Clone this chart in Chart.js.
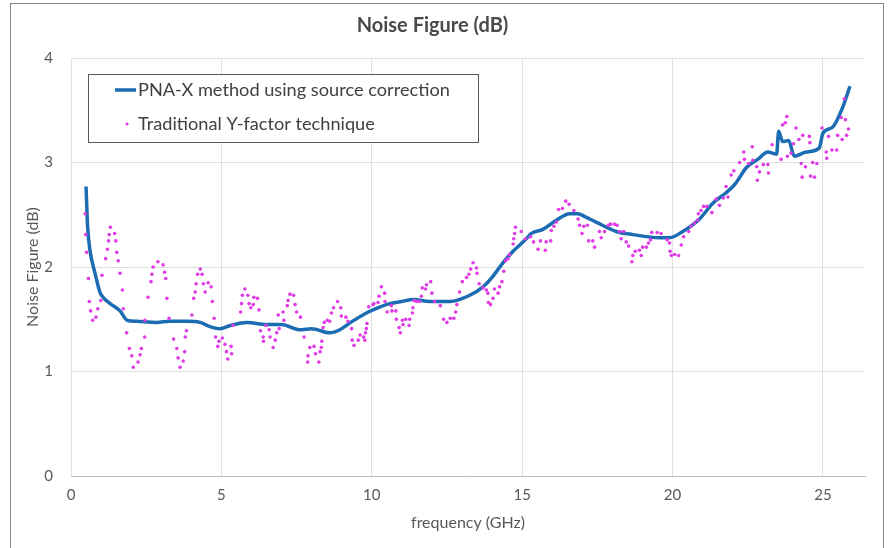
<!DOCTYPE html>
<html>
<head>
<meta charset="utf-8">
<title>Noise Figure (dB)</title>
<script src="https://cdn.jsdelivr.net/npm/chart.js@4/dist/chart.umd.min.js"></script>
<style>
  html, body { margin: 0; padding: 0; background: #fff; }
  #wrap { position: relative; width: 889px; height: 548px; }
  #frame {
    position: absolute; left: 10px; top: 3px; width: 874px; height: 560px;
    border: 1px solid #868686; box-sizing: border-box; pointer-events: none;
  }
</style>
</head>
<body>
<div id="wrap">
  <canvas id="nfChart" width="889" height="548"></canvas>
  <div id="frame"></div>
</div>
<script>
// PNA-X method using source correction: frequency (GHz) and noise figure (dB)
const pnaFreq = [0.5, 0.55, 0.63, 0.8, 0.96, 1.1, 1.3, 1.63, 1.87, 2.18, 2.85, 3.29, 3.84, 4.29, 4.62, 4.95,
  5.3, 5.84, 6.5, 7.0, 7.6, 8.0, 8.6, 8.94, 9.3, 9.82, 10.2, 10.6, 11.0, 11.37, 11.93, 12.6, 13.26, 13.7,
  14.0, 14.36, 14.7, 15.14, 15.3, 15.69, 16.1, 16.58, 16.85, 17.1, 17.46, 18.13, 18.68, 19.57, 19.9, 20.34,
  20.9, 21.34, 21.78, 22.1, 22.45, 22.83, 23.17, 23.46, 23.53, 23.66, 23.86, 24.05, 24.44, 24.88, 25.0,
  25.33, 25.66, 25.9];
const pnaNF = [2.77, 2.40, 2.16, 1.94, 1.76, 1.70, 1.65, 1.58, 1.49, 1.48, 1.47, 1.48, 1.48, 1.47, 1.43, 1.41,
  1.44, 1.47, 1.45, 1.45, 1.40, 1.41, 1.37, 1.40, 1.47, 1.56, 1.61, 1.65, 1.67, 1.69, 1.67, 1.67, 1.73, 1.81,
  1.90, 2.04, 2.15, 2.27, 2.32, 2.36, 2.44, 2.51, 2.51, 2.48, 2.43, 2.34, 2.31, 2.28, 2.28, 2.34,
  2.46, 2.61, 2.71, 2.80, 2.95, 3.03, 3.10, 3.08, 3.30, 3.20, 3.21, 3.06, 3.10, 3.14, 3.28,
  3.34, 3.53, 3.73];

// Traditional Y-factor technique: [frequency (GHz), noise figure (dB)]
const yFactorPoints = [
  [0.47, 2.51], [0.49, 2.31], [0.52, 2.14], [0.58, 1.89], [0.61, 1.67], [0.65, 1.58], [0.72, 1.49],
  [0.83, 1.52], [0.89, 1.60], [0.99, 1.68], [1.03, 1.92], [1.15, 2.08], [1.21, 2.17], [1.25, 2.25],
  [1.27, 2.31], [1.31, 2.38], [1.45, 2.32], [1.49, 2.25], [1.52, 2.14], [1.57, 2.06], [1.63, 1.94],
  [1.71, 1.78], [1.74, 1.60], [1.85, 1.37], [1.94, 1.22], [2.02, 1.15], [2.07, 1.04], [2.23, 1.09],
  [2.30, 1.16], [2.34, 1.22], [2.45, 1.33], [2.46, 1.49], [2.56, 1.71], [2.66, 1.86], [2.69, 1.93],
  [2.73, 2.00], [2.89, 2.05], [3.06, 2.02], [3.11, 1.95], [3.15, 1.89], [3.19, 1.70], [3.26, 1.51],
  [3.41, 1.31], [3.52, 1.22], [3.56, 1.13], [3.63, 1.04], [3.73, 1.10], [3.78, 1.19], [3.80, 1.33],
  [3.84, 1.39], [4.02, 1.54], [4.08, 1.70], [4.13, 1.76], [4.16, 1.84], [4.21, 1.93], [4.30, 1.98],
  [4.36, 1.93], [4.40, 1.84], [4.46, 1.76], [4.56, 1.85], [4.66, 1.81], [4.70, 1.67], [4.76, 1.51],
  [4.81, 1.33], [4.88, 1.24], [4.92, 1.29], [5.03, 1.32], [5.12, 1.26], [5.17, 1.19], [5.21, 1.12],
  [5.32, 1.24], [5.34, 1.17], [5.39, 1.44], [5.64, 1.57], [5.67, 1.65], [5.70, 1.73], [5.78, 1.79],
  [5.88, 1.73], [5.92, 1.65], [5.98, 1.61], [6.06, 1.64], [6.08, 1.71], [6.20, 1.70], [6.25, 1.59],
  [6.30, 1.39], [6.39, 1.33], [6.40, 1.29], [6.48, 1.44], [6.59, 1.40], [6.62, 1.33], [6.72, 1.23],
  [6.79, 1.30], [6.84, 1.37], [6.89, 1.54], [6.92, 1.41], [7.05, 1.57], [7.08, 1.49], [7.19, 1.63],
  [7.22, 1.68], [7.28, 1.74], [7.40, 1.73], [7.45, 1.64], [7.50, 1.57], [7.63, 1.52], [7.75, 1.33],
  [7.87, 1.09], [7.88, 1.15], [7.94, 1.23], [8.08, 1.24], [8.13, 1.17], [8.24, 1.09], [8.28, 1.19],
  [8.32, 1.23], [8.34, 1.29], [8.38, 1.42], [8.42, 1.47], [8.52, 1.49], [8.60, 1.48], [8.66, 1.56],
  [8.73, 1.61], [8.86, 1.67], [8.97, 1.61], [8.99, 1.53], [9.14, 1.52], [9.21, 1.48], [9.33, 1.41],
  [9.35, 1.30], [9.41, 1.25], [9.55, 1.30], [9.61, 1.35], [9.73, 1.33], [9.77, 1.30], [9.79, 1.37],
  [9.82, 1.41], [9.84, 1.46], [9.90, 1.62], [10.04, 1.64], [10.07, 1.65], [10.21, 1.66], [10.24, 1.72],
  [10.32, 1.81], [10.43, 1.75], [10.44, 1.67], [10.51, 1.57], [10.65, 1.63], [10.67, 1.58], [10.80, 1.58],
  [10.82, 1.50], [10.91, 1.42], [10.95, 1.37], [11.02, 1.49], [11.04, 1.45], [11.13, 1.50], [11.24, 1.44],
  [11.26, 1.50], [11.35, 1.56], [11.37, 1.61], [11.41, 1.68], [11.49, 1.67], [11.59, 1.67], [11.65, 1.72],
  [11.68, 1.80], [11.79, 1.79], [11.82, 1.83], [11.96, 1.86], [12.00, 1.75], [12.09, 1.67], [12.28, 1.63],
  [12.39, 1.50], [12.50, 1.47], [12.61, 1.51], [12.73, 1.51], [12.79, 1.57], [12.83, 1.64], [12.92, 1.76],
  [13.01, 1.86], [13.15, 1.90], [13.23, 1.93], [13.29, 1.98], [13.37, 2.04], [13.48, 1.99], [13.50, 1.94],
  [13.57, 1.84], [13.70, 1.80], [13.81, 1.78], [13.86, 1.75], [13.88, 1.66], [13.95, 1.64], [14.03, 1.70],
  [14.08, 1.79], [14.20, 1.75], [14.25, 1.81], [14.33, 1.86], [14.39, 1.96], [14.45, 2.06], [14.53, 2.08],
  [14.58, 2.12], [14.70, 2.22], [14.72, 2.27], [14.75, 2.32], [14.78, 2.38], [14.97, 2.34], [15.11, 2.27],
  [15.28, 2.29], [15.38, 2.24], [15.53, 2.17], [15.61, 2.25], [15.77, 2.16], [15.80, 2.24], [15.95, 2.25],
  [15.97, 2.35], [16.06, 2.39], [16.14, 2.43], [16.21, 2.55], [16.34, 2.56], [16.45, 2.63], [16.56, 2.60],
  [16.72, 2.54], [16.86, 2.46], [16.91, 2.40], [16.99, 2.32], [17.05, 2.39], [17.17, 2.40], [17.21, 2.25],
  [17.35, 2.25], [17.41, 2.19], [17.57, 2.34], [17.63, 2.28], [17.74, 2.34], [17.87, 2.40], [17.94, 2.41],
  [18.07, 2.41], [18.16, 2.40], [18.24, 2.34], [18.29, 2.27], [18.38, 2.34], [18.46, 2.24], [18.54, 2.20],
  [18.65, 2.05], [18.68, 2.11], [18.76, 2.15], [18.90, 2.16], [18.96, 2.11], [19.01, 2.19], [19.13, 2.19],
  [19.20, 2.23], [19.27, 2.26], [19.31, 2.33], [19.49, 2.33], [19.62, 2.32], [19.82, 2.26], [19.90, 2.23],
  [19.92, 2.15], [19.96, 2.11], [20.07, 2.12], [20.20, 2.11], [20.29, 2.21], [20.37, 2.29], [20.54, 2.34],
  [20.62, 2.39], [20.73, 2.42], [20.84, 2.45], [20.86, 2.51], [20.95, 2.54], [21.03, 2.58], [21.14, 2.58],
  [21.31, 2.52], [21.45, 2.65], [21.56, 2.59], [21.69, 2.66], [21.78, 2.77], [21.84, 2.67], [21.95, 2.88],
  [22.04, 2.92], [22.23, 3.00], [22.37, 3.10], [22.39, 3.03], [22.53, 2.99], [22.65, 3.15], [22.67, 3.02],
  [22.80, 2.96], [22.82, 2.83], [22.89, 2.91], [23.02, 2.98], [23.17, 2.98], [23.19, 2.90], [23.31, 3.17],
  [23.61, 3.03], [23.66, 3.36], [23.75, 3.38], [23.80, 3.44], [23.82, 3.06], [23.94, 3.09], [24.02, 3.18],
  [24.11, 3.33], [24.20, 3.22], [24.28, 2.99], [24.31, 2.86], [24.33, 3.26], [24.42, 2.96], [24.55, 3.25],
  [24.57, 3.19], [24.59, 2.87], [24.66, 3.00], [24.72, 2.86], [24.80, 2.99], [24.97, 3.33], [25.11, 3.10],
  [25.13, 3.04], [25.19, 3.25], [25.30, 3.12], [25.46, 3.12], [25.49, 3.26], [25.61, 3.43], [25.64, 3.22],
  [25.71, 3.61], [25.75, 3.41], [25.79, 3.26], [25.85, 3.32]
];

const xTicks = [0, 5, 10, 15, 20, 25];
const yTicks = [0, 1, 2, 3, 4];

const seriesNames = ['PNA-X method using source correction', 'Traditional Y-factor technique'];
const lineColor = '#1c6cb3';
const dotColor = '#e03ce6';
const fontFamily = 'Lato, "Open Sans", sans-serif';

// legend framed inside the plot, top-left
const boxedLegend = {
  id: 'boxedLegend',
  afterDatasetsDraw(chart) {
    const { ctx, chartArea } = chart;
    const x = chartArea.left + 17, y = chartArea.top + 16;
    const w = 390, h = 68;
    ctx.save();
    ctx.fillStyle = '#fff';
    ctx.fillRect(x, y, w, h);
    ctx.strokeStyle = '#595959';
    ctx.lineWidth = 1;
    ctx.strokeRect(x + 0.5, y + 0.5, w, h);
    ctx.font = '18.2px ' + fontFamily;
    ctx.fillStyle = '#404040';
    ctx.textBaseline = 'middle';
    // row 1: line sample
    ctx.strokeStyle = lineColor;
    ctx.lineWidth = 3.5;
    ctx.beginPath();
    ctx.moveTo(x + 27, y + 16);
    ctx.lineTo(x + 48, y + 16);
    ctx.stroke();
    ctx.fillText(seriesNames[0], x + 50, y + 16);
    // row 2: dot sample
    ctx.fillStyle = dotColor;
    ctx.beginPath();
    ctx.arc(x + 39, y + 50, 1.6, 0, Math.PI * 2);
    ctx.fill();
    ctx.fillStyle = '#404040';
    ctx.fillText(seriesNames[1], x + 50, y + 50);
    ctx.restore();
  }
};

const ctx = document.getElementById('nfChart').getContext('2d');
new Chart(ctx, {
  type: 'scatter',
  data: {
    datasets: [
      {
        label: seriesNames[1],
        data: yFactorPoints.map(p => ({ x: p[0], y: p[1] })),
        backgroundColor: dotColor,
        borderColor: dotColor,
        pointRadius: 1.8,
        pointBorderWidth: 0,
        order: 0
      },
      {
        label: seriesNames[0],
        data: pnaFreq.map((f, i) => ({ x: f, y: pnaNF[i] })),
        showLine: true,
        borderColor: lineColor,
        borderWidth: 3.5,
        pointRadius: 0,
        cubicInterpolationMode: 'monotone',
        order: 1
      }
    ]
  },
  options: {
    responsive: false,
    animation: false,
    layout: { padding: { left: 0, right: 24, top: 0, bottom: 0 } },
    plugins: {
      legend: { display: false },
      tooltip: { enabled: false },
      title: {
        display: true,
        text: 'Noise Figure (dB)',
        color: '#4a4a4a',
        font: { family: fontFamily, size: 20, weight: 'bold' },
        padding: { top: 14, bottom: 20 }
      }
    },
    scales: {
      x: {
        type: 'linear',
        min: 0,
        max: 26.4,
        afterFit: s => { s.height = 72; },
        afterBuildTicks: s => { s.ticks = xTicks.map(v => ({ value: v })); },
        ticks: { color: '#595959', font: { family: fontFamily, size: 15 }, padding: 10 },
        grid: { color: '#e0e0e0', drawTicks: false },
        border: { color: '#bfbfbf', width: 1 },
        title: {
          display: true,
          text: 'frequency (GHz)',
          color: '#595959',
          font: { family: fontFamily, size: 16 },
          padding: { top: 0, bottom: 16 }
        }
      },
      y: {
        min: 0,
        max: 4,
        afterFit: s => { s.width = 71; },
        afterBuildTicks: s => { s.ticks = yTicks.map(v => ({ value: v })); },
        ticks: { color: '#595959', font: { family: fontFamily, size: 15 }, padding: 18 },
        grid: { color: '#e0e0e0', drawTicks: false },
        border: { display: false },
        title: {
          display: true,
          text: 'Noise Figure (dB)',
          color: '#595959',
          font: { family: fontFamily, size: 16 },
          padding: { top: 23, bottom: 0 }
        }
      }
    }
  },
  plugins: [boxedLegend]
});
</script>
</body>
</html>
